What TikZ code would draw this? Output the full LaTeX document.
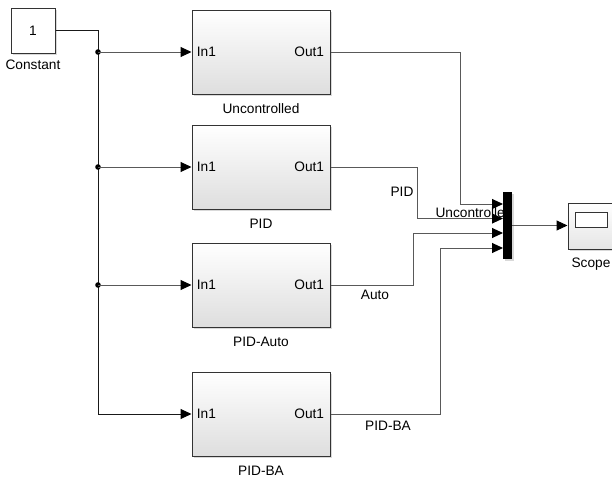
\documentclass[tikz,border=0pt]{standalone}
\usepackage{fontspec}
\setmainfont{Liberation Sans}
\usetikzlibrary{arrows.meta,shadows,positioning}
\tikzset{
  sl/.style = {font=\fontsize{6.85}{8}\selectfont, inner sep=0pt},
  blockshadow/.style = {drop shadow={shadow xshift=1pt, shadow yshift=-1pt, opacity=.3}},
  subsys/.style = {draw=black!80, line width=.5pt, minimum width=69pt, minimum height=42pt,
    top color=white, bottom color=black!13, blockshadow},
  wire/.style = {draw=black!65, line width=.5pt},
  sig/.style = {wire, -{Triangle[length=5.5pt, width=5pt, black]}}
}
\begin{document}
\begin{tikzpicture}[x=.5pt, y=-.5pt, sl]
  \useasboundingbox (0,0) rectangle (612,477);
  \node[draw=black!80, line width=.5pt, fill=white, blockshadow, minimum width=22pt, minimum height=22.5pt] (const) at (33,30.5) {1};
  \node[below=3pt of const] (constlab) {Constant};
  % subsystems
  \foreach \nm/\yy/\txt in {unc/52/Uncontrolled, pid/167/PID, auto/285/PID-Auto, ba/414/PID-BA}{
    \node[subsys] (\nm) at (261,\yy) {};
    \node[anchor=west] (\nm-in) at ([xshift=2.5pt]\nm.west) {In1};
    \node[anchor=east] (\nm-out) at ([xshift=-3pt]\nm.east) {Out1};
    \node[below=4.5pt of \nm] (\nm-lab) {\txt};
  }
  \draw[sig, draw=black!90] (const.east) -| (98,414) -- (ba.west);
  \foreach \nm/\yy in {unc/52, pid/167, auto/285}{
    \coordinate (j-\nm) at (98,\yy);
    \fill (j-\nm) circle (1.4pt);
    \draw[sig] (j-\nm) -- (\nm.west);
  }
  % signal labels
  \node (lab-unc) at (474,213) {Uncontrolled};
  \node (lab-pid) at (402,192) {PID};
  \node (lab-auto) at (375,295) {Auto};
  \node (lab-ba) at (388,426) {PID-BA};
  \foreach \i/\yy in {1/204, 2/218.5, 3/233, 4/248}
    \coordinate (mi\i) at (503,\yy);
  \draw[sig] (unc.east) -| (460,204) -- (mi1);
  \draw[sig] (pid.east) -| (417,218.5) -- (mi2);
  \draw[sig] (auto.east) -| (413,233) -- (mi3);
  \draw[sig] (ba.east) -| (440,248) -- (mi4);
  \node[fill=black, minimum width=4.5pt, minimum height=33.5pt, blockshadow] (mux) at (507.5,225.5) {};
  % scope
  \node[draw=black!80, line width=.5pt, top color=white, bottom color=black!10, blockshadow,
    minimum width=23pt, minimum height=23pt] (scope) at (591,226) {};
  \node[draw=black!80, line width=.5pt, fill=white, minimum width=16pt, minimum height=7.5pt] (screen) at (591,219.5) {};
  \node[below=4pt of scope] (scopelab) {Scope};
  \draw[sig] (mux.east) -- (mux.east -| scope.west);
\end{tikzpicture}
\end{document}
